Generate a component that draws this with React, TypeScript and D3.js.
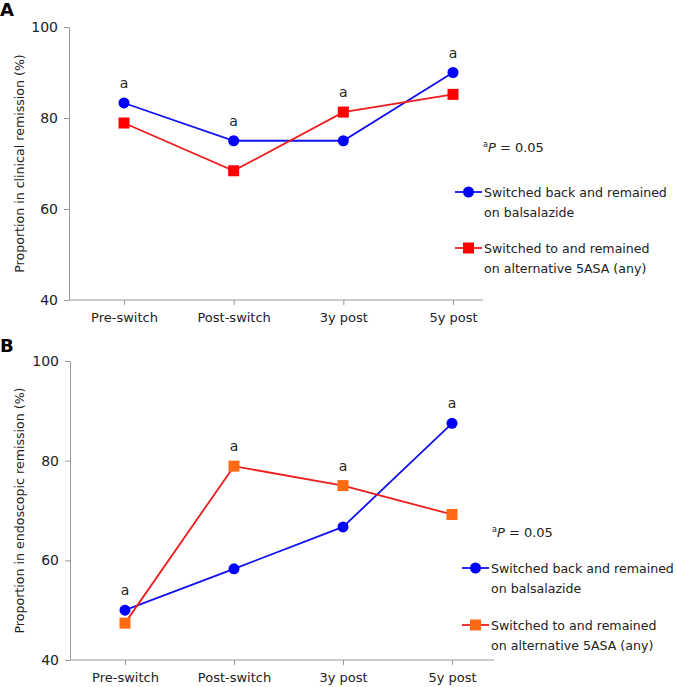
import React, { useEffect, useRef } from 'react';
import * as d3 from 'd3';

const categories = ['Pre-switch', 'Post-switch', '3y post', '5y post'];
const yTicks = [40, 60, 80, 100];

// panel A: clinical remission
const clinicalBalsalazide = [83.3, 75, 75, 90];
const clinicalAlternative = [78.9, 68.4, 81.3, 85.2];
// which series carries the "a" mark at each time point (0 = balsalazide, 1 = alternative)
const clinicalMarks = [0, 0, 1, 0];

// panel B: endoscopic remission
const endoBalsalazide = [50, 58.3, 66.7, 87.5];
const endoAlternative = [47.4, 78.9, 75, 69.2];
const endoMarks = [0, 1, 1, 0];

const legendLabels = [
  ['Switched back and remained', 'on balsalazide'],
  ['Switched to and remained', 'on alternative 5ASA (any)'],
];

const FONT = '"DejaVu Sans", Verdana, sans-serif';

const App = () => {
  const ref = useRef<SVGSVGElement>(null);

  useEffect(() => {
    const root = d3.select(ref.current);
    root.selectAll('*').remove();

    const drawPanel = (opts: any) => {
      const g = root.append('g');
      const x = d3.scalePoint<string>().domain(categories).range([opts.x0, opts.x1]);
      const y = d3.scaleLinear().domain([40, 100]).range([opts.yBottom, opts.yTop]);

      // panel letter
      g.append('text')
        .attr('x', 0)
        .attr('y', opts.letterY)
        .attr('font-family', FONT)
        .attr('font-weight', 'bold')
        .attr('font-size', 18)
        .text(opts.letter);

      // y axis
      const yAxis = g.append('g')
        .attr('transform', `translate(${opts.axisX},0)`)
        .call(d3.axisLeft(y).tickValues(yTicks).tickSize(5).tickPadding(6).tickSizeOuter(0));
      yAxis.select('.domain').attr('stroke', '#999');
      yAxis.selectAll('.tick line').attr('stroke', '#999');
      yAxis.selectAll('.tick text').attr('font-family', FONT).attr('font-size', 14).attr('fill', '#222');

      // x axis
      const xAxis = g.append('g')
        .attr('transform', `translate(0,${opts.yBottom})`)
        .call(d3.axisBottom(x).tickSize(5).tickPadding(8).tickSizeOuter(0));
      xAxis.select('.domain').remove();
      xAxis.append('line')
        .attr('x1', opts.axisX).attr('x2', opts.axisEnd)
        .attr('stroke', '#999');
      xAxis.selectAll('.tick line').attr('stroke', '#999');
      xAxis.selectAll('.tick text').attr('font-family', FONT).attr('font-size', 13).attr('fill', '#222');

      // y label
      g.append('text')
        .attr('transform', `translate(24,${(opts.yTop + opts.yBottom) / 2}) rotate(-90)`)
        .attr('text-anchor', 'middle')
        .attr('font-family', FONT)
        .attr('font-size', 12.6)
        .attr('fill', '#222')
        .text(opts.yLabel);

      const line = d3.line<number>()
        .x((_, i) => x(categories[i])!)
        .y(d => y(d));

      const series = [
        { values: opts.blue, stroke: '#1010f0', fill: '#0000ff', shape: 'circle' },
        { values: opts.red, stroke: '#ee1c1c', fill: opts.squareFill, shape: 'square' },
      ];

      series.forEach(s => {
        g.append('path')
          .datum(s.values)
          .attr('d', line)
          .attr('fill', 'none')
          .attr('stroke', s.stroke)
          .attr('stroke-width', 1.8);
      });

      series.forEach(s => {
        s.values.forEach((v: number, i: number) => {
          const cx = x(categories[i])!;
          const cy = y(v);
          if (s.shape === 'circle') {
            g.append('circle').attr('cx', cx).attr('cy', cy).attr('r', 5.5).attr('fill', s.fill);
          } else {
            g.append('rect').attr('x', cx - 5.5).attr('y', cy - 5.5).attr('width', 11).attr('height', 11).attr('fill', s.fill);
          }
        });
      });

      // significance marks
      opts.marks.forEach((si: number, i: number) => {
        const v = series[si].values[i];
        g.append('text')
          .attr('x', x(categories[i])!)
          .attr('y', y(v) - 15)
          .attr('text-anchor', 'middle')
          .attr('font-family', FONT)
          .attr('font-size', 14)
          .attr('fill', '#222')
          .text('a');
      });

      // p value note
      const note = g.append('text')
        .attr('x', opts.noteX)
        .attr('y', opts.noteY)
        .attr('font-family', FONT)
        .attr('font-size', 13)
        .attr('fill', '#222');
      note.append('tspan').attr('font-size', 8).attr('dy', -5).text('a');
      note.append('tspan').attr('font-style', 'italic').attr('dy', 5).text('P');
      note.append('tspan').text(' = 0.05');

      // legend
      series.forEach((s, k) => {
        const ly = opts.legendY[k];
        const lx0 = opts.legendX;
        g.append('line')
          .attr('x1', lx0).attr('x2', lx0 + 27)
          .attr('y1', ly).attr('y2', ly)
          .attr('stroke', s.stroke).attr('stroke-width', 1.8);
        if (s.shape === 'circle') {
          g.append('circle').attr('cx', lx0 + 13.5).attr('cy', ly).attr('r', 5.5).attr('fill', s.fill);
        } else {
          g.append('rect').attr('x', lx0 + 8).attr('y', ly - 5.5).attr('width', 11).attr('height', 11).attr('fill', s.fill);
        }
        legendLabels[k].forEach((t, j) => {
          g.append('text')
            .attr('x', lx0 + 29)
            .attr('y', ly + 5 + j * 20)
            .attr('font-family', FONT)
            .attr('font-size', 12.6)
            .attr('fill', '#222')
            .text(t);
        });
      });
    };

    drawPanel({
      letter: 'A', letterY: 16,
      x0: 124, x1: 453, axisX: 69, axisEnd: 483,
      yTop: 27, yBottom: 300,
      yLabel: 'Proportion in clinical remission (%)',
      blue: clinicalBalsalazide, red: clinicalAlternative, squareFill: '#ff0000',
      marks: clinicalMarks,
      noteX: 483, noteY: 152,
      legendX: 455, legendY: [192, 248],
    });

    drawPanel({
      letter: 'B', letterY: 352,
      x0: 125, x1: 452, axisX: 70, axisEnd: 494,
      yTop: 361, yBottom: 660,
      yLabel: 'Proportion in endoscopic remission (%)',
      blue: endoBalsalazide, red: endoAlternative, squareFill: '#ff6a13',
      marks: endoMarks,
      noteX: 492, noteY: 537,
      legendX: 462, legendY: [568, 625],
    });
  }, []);

  return (
    <svg
      ref={ref}
      width={677}
      height={687}
      style={{ position: 'absolute', left: 0, top: 0, background: '#fff' }}
    />
  );
};

export default App;
